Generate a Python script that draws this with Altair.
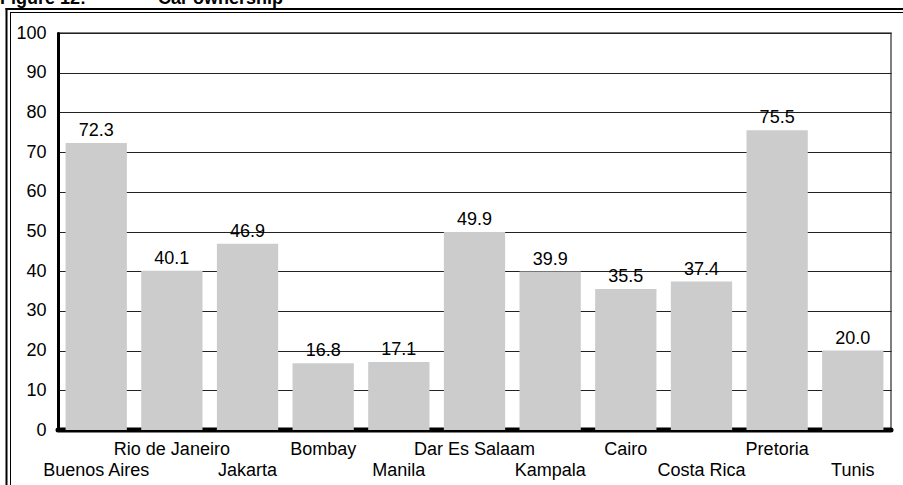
import altair as alt
import pandas as pd

# Car ownership by city (percent of households)
cities = ["Buenos Aires", "Rio de Janeiro", "Jakarta", "Bombay", "Manila",
          "Dar Es Salaam", "Kampala", "Cairo", "Costa Rica", "Pretoria", "Tunis"]
ownership = [72.3, 40.1, 46.9, 16.8, 17.1, 49.9, 39.9, 35.5, 37.4, 75.5, 20.0]
y_ticks = [0, 10, 20, 30, 40, 50, 60, 70, 80, 90, 100]

# cities whose label sits on the lower of the two label rows
lower_row = cities[0::2]

df = pd.DataFrame({"city": cities, "value": ownership})
df["label"] = df["value"].map(lambda v: f"{v:.1f}")

FONT = "Liberation Sans"
FS = 18
lower_js = "[" + ",".join(f"'{c}'" for c in lower_row) + "]"

x_enc = alt.X(
    "city:N", sort=cities, title=None,
    scale=alt.Scale(paddingInner=0.19, paddingOuter=0.1),
    axis=alt.Axis(
        domain=False, ticks=False, grid=False,
        labelAngle=0, labelFont=FONT, labelFontSize=FS, labelColor="black",
        labelPadding=10, labelLineHeight=21, labelOverlap=False, labelLimit=300,
        labelExpr=f"indexof({lower_js}, datum.value) >= 0 ? ['', datum.value] : datum.value",
    ),
)
y_scale = alt.Scale(domain=[0, 100], nice=False)
y_axis = alt.Axis(
    values=y_ticks, ticks=False, labelFont=FONT, labelFontSize=FS,
    labelColor="black", labelPadding=12,
    domainColor="black", domainWidth=3, domainCap="round",
    gridColor="#222222", gridWidth=1, gridOpacity=1,
)

base = alt.Chart(df)

# thick baseline along zero, partly covered by the bars
zero_line = alt.Chart(pd.DataFrame({"value": [0]})).mark_rule(
    color="black", strokeWidth=5, strokeCap="round"
).encode(y=alt.Y("value:Q", scale=y_scale, axis=y_axis, title=None))

bars = base.mark_bar(color="#cccccc").encode(
    x=x_enc, y=alt.Y("value:Q", scale=y_scale, axis=y_axis, title=None)
)

labels = base.mark_text(
    font=FONT, fontSize=FS, color="black", baseline="bottom", dy=-3
).encode(
    x=alt.X("city:N", sort=cities),
    y=alt.Y("value:Q", scale=y_scale, axis=y_axis, title=None),
    text="label:N",
)

# double-line page frame around the figure
one = pd.DataFrame({"k": [0]})
frame = alt.layer(
    alt.Chart(one).mark_rule(color="black", strokeWidth=2).encode(
        x=alt.value(-51.5), y=alt.value(-25), y2=alt.value(470)),
    alt.Chart(one).mark_rule(color="black", strokeWidth=1).encode(
        x=alt.value(-47.5), y=alt.value(-20.5), y2=alt.value(470)),
    alt.Chart(one).mark_rule(color="black", strokeWidth=2).encode(
        x=alt.value(-52.5), x2=alt.value(860), y=alt.value(-24)),
    alt.Chart(one).mark_rule(color="black", strokeWidth=1).encode(
        x=alt.value(-48), x2=alt.value(860), y=alt.value(-20.5)),
)

heading = alt.layer(
    alt.Chart(one).mark_text(
        text="Figure 12:", font=FONT, fontSize=18, fontWeight="bold",
        align="left", baseline="alphabetic", color="black",
    ).encode(x=alt.value(-58), y=alt.value(-29.5)),
    alt.Chart(one).mark_text(
        text="Car ownership", font=FONT, fontSize=18, fontWeight="bold",
        align="left", baseline="alphabetic", color="black",
    ).encode(x=alt.value(100), y=alt.value(-29.5)),
)

chart = alt.layer(zero_line, bars, labels, frame, heading).properties(
    width=833, height=397,
    autosize=alt.AutoSizeParams(type="none"),
    padding={"left": 58, "top": 33, "right": 12, "bottom": 55},
    background="white",
).configure_view(stroke="#555555", strokeWidth=1.5)

chart.save("out.html", embed_options={"renderer": "svg", "actions": False})
